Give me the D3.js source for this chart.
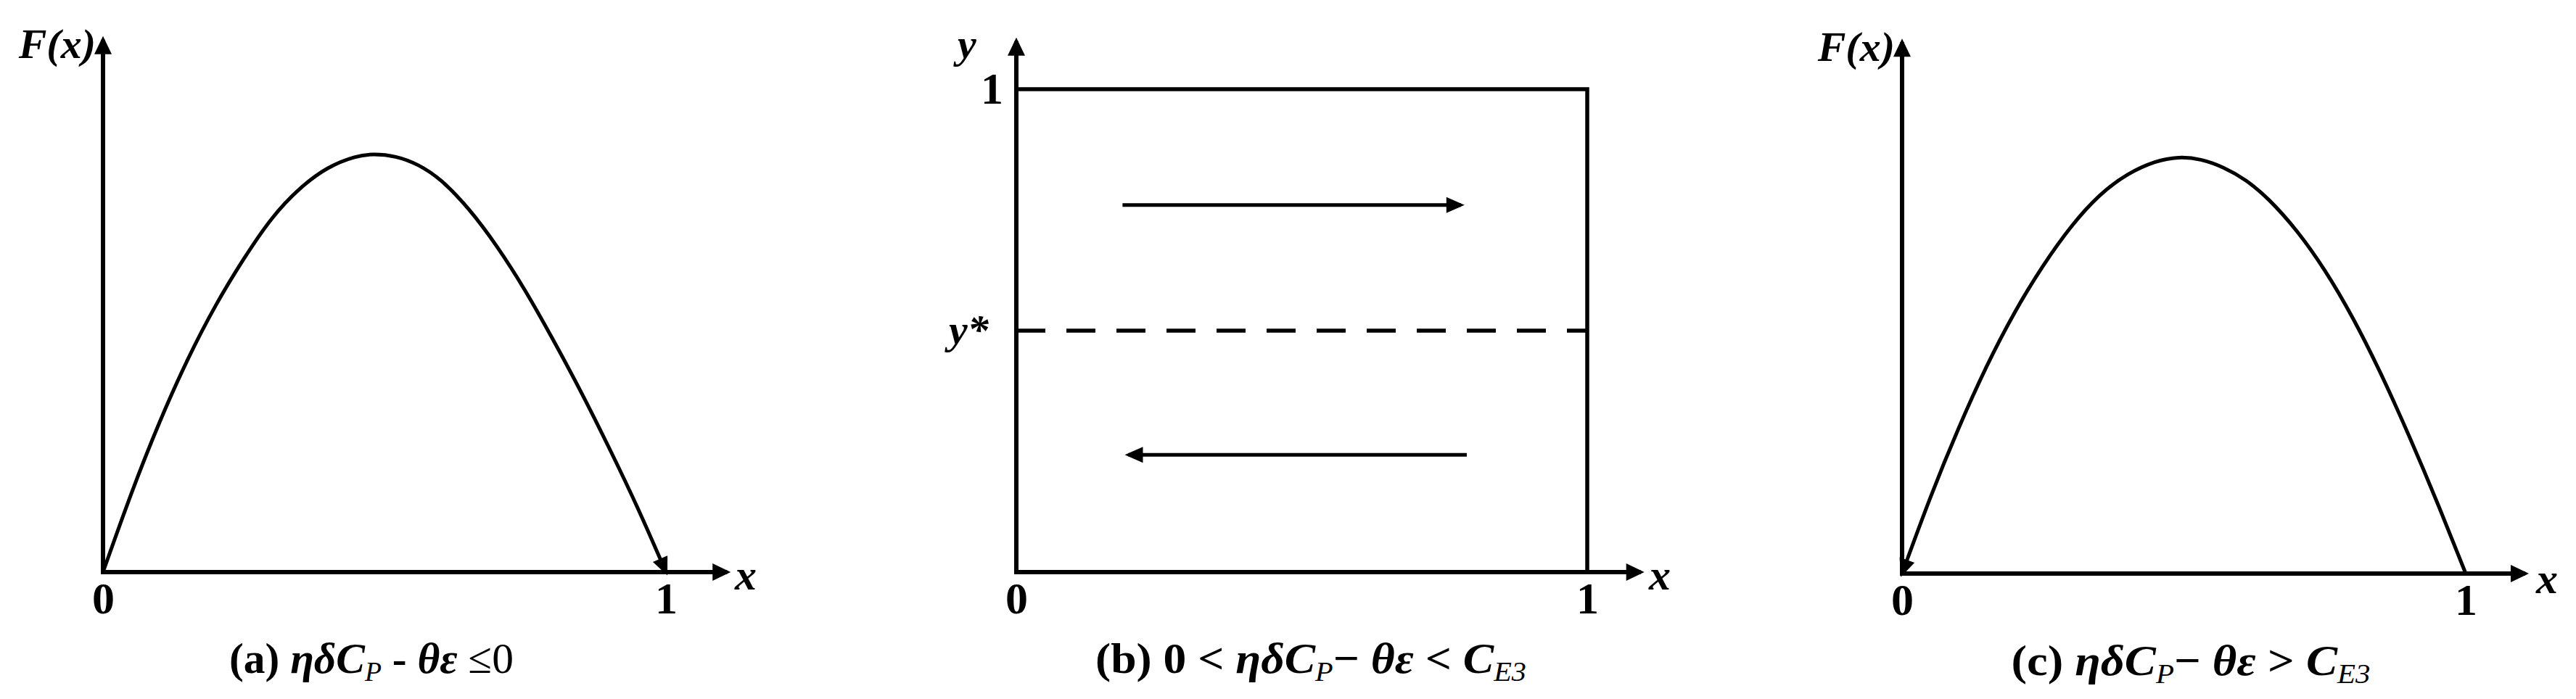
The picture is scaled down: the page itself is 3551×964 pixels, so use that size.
<!DOCTYPE html>
<html>
<head>
<meta charset="utf-8">
<script src="https://cdn.jsdelivr.net/npm/d3@7"></script>
<style>
  body { margin: 0; background: #fff; }
  svg text { font-family: "Liberation Serif", "Times New Roman", serif; fill: #000; }
</style>
</head>
<body>
<script>
// panel (a): F(x) (peak scaled to 1)
const xA = [0, 0.05, 0.10, 0.15, 0.20, 0.25, 0.30, 0.35, 0.40, 0.45, 0.48, 0.52, 0.56, 0.60, 0.65, 0.70, 0.75, 0.80, 0.85, 0.90, 0.95, 1]
const fA = [0, 0.19, 0.36, 0.51, 0.64, 0.75, 0.85, 0.92, 0.97, 0.995, 1, 0.995, 0.975, 0.94, 0.87, 0.78, 0.675, 0.555, 0.43, 0.295, 0.155, 0]

// panel (c): same kind of curve, arrow runs back to 0
const xC = [0, 0.05, 0.10, 0.15, 0.20, 0.25, 0.30, 0.35, 0.40, 0.45, 0.49, 0.53, 0.57, 0.61, 0.65, 0.70, 0.75, 0.80, 0.85, 0.90, 0.95, 1]
const fC = [0, 0.185, 0.35, 0.5, 0.63, 0.74, 0.835, 0.91, 0.96, 0.99, 1, 0.995, 0.975, 0.945, 0.9, 0.825, 0.73, 0.615, 0.48, 0.33, 0.17, 0]

// panel (b): y* line and the two flow arrows
const yStar = 0.5
const flowY    = [0.76, 0.243]
const flowFrom = [0.186, 0.789]
const flowTo   = [0.785, 0.19]

const xTicks = [0, 1]
const yTicksB = [1]

const W = 3551, H = 964

const svg = d3.select("body")
  .append("svg")
  .attr("width", W)
  .attr("height", H)

const defs = svg.append("defs")
// axis arrow head
defs.append("marker")
  .attr("id", "head")
  .attr("markerUnits", "userSpaceOnUse")
  .attr("viewBox", "-2 -14 30 28")
  .attr("markerWidth", 30).attr("markerHeight", 28)
  .attr("refX", 20).attr("refY", 0)
  .attr("orient", "auto-start-reverse")
  .append("path")
  .attr("d", "M0,-12 L25,0 L0,12 Z")
  .attr("fill", "#000")
// head for the curves and flow arrows
defs.append("marker")
  .attr("id", "headSmall")
  .attr("markerUnits", "userSpaceOnUse")
  .attr("viewBox", "-2 -13 30 26")
  .attr("markerWidth", 30).attr("markerHeight", 26)
  .attr("refX", 20).attr("refY", 0)
  .attr("orient", "auto-start-reverse")
  .append("path")
  .attr("d", "M0,-11 L25,0 L0,11 Z")
  .attr("fill", "#000")

// pixel frame of each panel; tips are where the axis arrows end (domain units)
const panels = [
  {x0: 142,  x1: 918,  y0: 789, y1: 212, xTip: 1.115, yTip: 1.281},
  {x0: 1401, x1: 2188, y0: 789, y1: 123, xTip: 1.100, yTip: 1.107},
  {x0: 2622, x1: 3399, y0: 791, y1: 216, xTip: 1.112, yTip: 1.283}
]

function drawAxes(p, yLabelTicks) {
  const x = d3.scaleLinear().domain([0, 1]).range([p.x0, p.x1])
  const y = d3.scaleLinear().domain([0, 1]).range([p.y0, p.y1])

  // x axis line with arrow
  svg.append("line")
    .attr("x1", x(0) - 3).attr("y1", y(0))
    .attr("x2", x(p.xTip) - 5).attr("y2", y(0))
    .attr("stroke", "#000").attr("stroke-width", 6)
    .attr("marker-end", "url(#head)")
  // y axis line with arrow
  svg.append("line")
    .attr("x1", x(0)).attr("y1", y(0) + 3)
    .attr("x2", x(0)).attr("y2", y(p.yTip) + 5)
    .attr("stroke", "#000").attr("stroke-width", 6)
    .attr("marker-end", "url(#head)")

  // tick labels through d3 axes
  const gx = svg.append("g")
    .attr("transform", `translate(0,${y(0)})`)
    .call(d3.axisBottom(x).tickValues(xTicks).tickSize(0).tickPadding(13).tickFormat(d3.format("d")))
  gx.select(".domain").remove()
  gx.selectAll("text")
    .attr("font-family", "'Liberation Serif', serif")
    .attr("font-size", 62)
    .attr("font-weight", "bold")

  if (yLabelTicks) {
    const gy = svg.append("g")
      .attr("transform", `translate(${x(0)},0)`)
      .call(d3.axisLeft(y).tickValues(yLabelTicks).tickSize(0).tickPadding(18).tickFormat(d3.format("d")))
    gy.select(".domain").remove()
    gy.selectAll("text")
      .attr("font-family", "'Liberation Serif', serif")
      .attr("font-size", 62)
      .attr("font-weight", "bold")
  }
  return {x, y}
}

function label(txt, px, py, anchor, size) {
  svg.append("text")
    .attr("x", px).attr("y", py)
    .attr("text-anchor", anchor)
    .attr("font-size", size)
    .attr("font-weight", "bold")
    .attr("font-style", "italic")
    .text(txt)
}

function caption(parts, cx, cy, len) {
  const t = svg.append("text")
    .attr("x", cx).attr("y", cy)
    .attr("text-anchor", "middle")
    .attr("font-size", 60)
    .attr("font-weight", "bold")
    .attr("textLength", len)
    .attr("lengthAdjust", "spacingAndGlyphs")
  let shifted = false
  parts.forEach(pt => {
    const s = t.append("tspan").text(pt.t)
    if (pt.k === "i") s.attr("font-style", "italic")
    if (pt.k === "r") s.attr("font-weight", "normal")
    if (pt.k === "sub") {
      s.attr("font-style", "italic").attr("font-size", 38).attr("font-weight", "normal").attr("dy", 11)
      shifted = true
    } else if (shifted) {
      s.attr("dy", -11)
      shifted = false
    }
  })
}

const line = d3.line().curve(d3.curveBasis)

// ---- (a)
const a = drawAxes(panels[0], null)
svg.append("path")
  .datum(d3.zip(xA, fA))
  .attr("d", line.x(d => a.x(d[0])).y(d => a.y(d[1])))
  .attr("fill", "none")
  .attr("stroke", "#000")
  .attr("stroke-width", 5)
  .attr("marker-end", "url(#headSmall)")
label("F(x)", 132, 80, "end", 58)
label("x", 1013, 813, "start", 60)
caption([
  {t: "(a) ", k: "n"}, {t: "ηδC", k: "i"}, {t: "P", k: "sub"},
  {t: " - ", k: "n"}, {t: "θε", k: "i"}, {t: " ≤0", k: "r"}
], 512, 928, 392)

// ---- (b)
const b = drawAxes(panels[1], yTicksB)
svg.append("path")
  .attr("d", `M${b.x(0)},${b.y(1)} H${b.x(1)} V${b.y(0)}`)
  .attr("fill", "none")
  .attr("stroke", "#000")
  .attr("stroke-width", 5.5)
svg.append("line")
  .attr("x1", b.x(0)).attr("x2", b.x(1))
  .attr("y1", b.y(yStar)).attr("y2", b.y(yStar))
  .attr("stroke", "#000")
  .attr("stroke-width", 5.5)
  .attr("stroke-dasharray", "40,29")
svg.selectAll("line.flow")
  .data(d3.range(flowY.length))
  .enter()
  .append("line")
  .attr("class", "flow")
  .attr("x1", i => b.x(flowFrom[i]))
  .attr("x2", i => b.x(flowTo[i]) + (flowTo[i] > flowFrom[i] ? -5 : 5))
  .attr("y1", i => b.y(flowY[i]))
  .attr("y2", i => b.y(flowY[i]))
  .attr("stroke", "#000")
  .attr("stroke-width", 5)
  .attr("marker-end", "url(#headSmall)")
label("y", 1320, 80, "start", 58)
label("y*", 1308, 474, "start", 58)
label("x", 2273, 813, "start", 60)
caption([
  {t: "(b) 0 < ", k: "n"}, {t: "ηδC", k: "i"}, {t: "P", k: "sub"},
  {t: "− ", k: "n"}, {t: "θε", k: "i"}, {t: " < ", k: "n"},
  {t: "C", k: "i"}, {t: "E3", k: "sub"}
], 1807, 928, 594)

// ---- (c)
const c = drawAxes(panels[2], null)
svg.append("path")
  .datum(d3.zip(xC, fC))
  .attr("d", line.x(d => c.x(d[0])).y(d => c.y(d[1])))
  .attr("fill", "none")
  .attr("stroke", "#000")
  .attr("stroke-width", 5)
  .attr("marker-start", "url(#headSmall)")
label("F(x)", 2612, 84, "end", 58)
label("x", 3496, 818, "start", 60)
caption([
  {t: "(c) ", k: "n"}, {t: "ηδC", k: "i"}, {t: "P", k: "sub"},
  {t: "− ", k: "n"}, {t: "θε", k: "i"}, {t: " > ", k: "n"},
  {t: "C", k: "i"}, {t: "E3", k: "sub"}
], 3020, 931, 495)
</script>
</body>
</html>
